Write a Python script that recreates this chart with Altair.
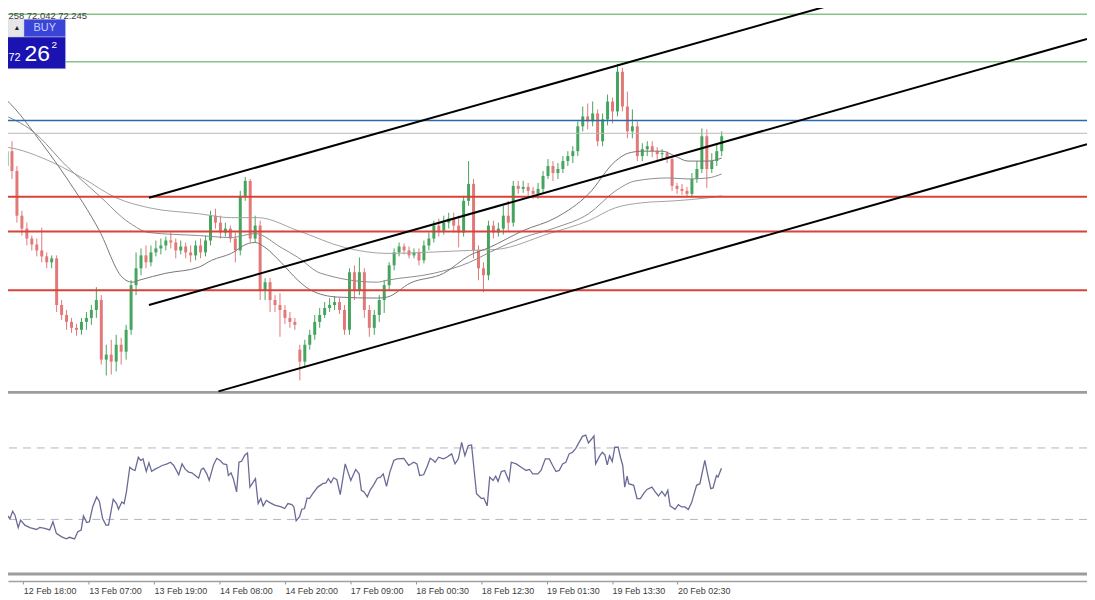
import altair as alt
import pandas as pd

# ---------------- data (prices) ----------------
OPEN = [72.42,71.95,72.10,71.90,71.45,71.32,71.22,71.16,71.10,71.04,
        70.98,71.02,70.55,70.45,70.38,70.32,70.30,70.38,70.42,70.50,
        70.60,70.00,70.05,69.98,70.15,70.08,70.30,70.75,70.92,71.05,
        70.98,71.08,71.12,71.15,71.20,71.18,71.10,71.14,71.08,71.05,
        71.15,71.08,71.20,71.45,71.38,71.28,71.32,71.22,71.10,71.65,
        71.80,71.22,71.35,70.70,70.78,70.60,70.55,70.50,70.42,70.38,
        70.10,69.98,70.15,70.25,70.38,70.45,70.52,70.55,70.58,70.50,
        70.30,70.88,70.70,70.88,70.50,70.32,70.45,70.60,70.75,70.95,
        71.08,71.14,71.10,71.05,71.08,71.00,71.15,71.22,71.35,71.30,
        71.38,71.42,71.35,71.28,71.60,71.77,71.10,70.92,70.85,71.35,
        71.28,71.32,71.45,71.38,71.75,71.72,71.74,71.70,71.67,71.72,
        71.85,71.95,71.88,71.92,72.00,72.05,72.10,72.35,72.45,72.40,
        72.48,72.20,72.42,72.60,72.50,72.90,72.55,72.30,72.35,72.05,
        72.12,72.15,72.10,72.07,72.08,72.02,71.75,71.72,71.70,71.67,
        71.82,71.92,72.25,71.92,72.00,72.10]
CLOSE = [71.95,72.10,71.90,71.45,71.32,71.22,71.16,71.10,71.04,70.98,
         71.02,70.55,70.45,70.38,70.32,70.30,70.38,70.42,70.50,70.60,
         70.00,70.05,69.98,70.15,70.08,70.30,70.75,70.92,71.05,70.98,
         71.08,71.12,71.15,71.20,71.18,71.10,71.14,71.08,71.05,71.15,
         71.08,71.20,71.45,71.38,71.28,71.32,71.22,71.10,71.65,71.80,
         71.22,71.35,70.70,70.78,70.60,70.55,70.50,70.42,70.38,70.35,
         69.98,70.15,70.25,70.38,70.45,70.52,70.55,70.58,70.50,70.30,
         70.88,70.70,70.88,70.50,70.32,70.45,70.60,70.75,70.95,71.08,
         71.14,71.10,71.05,71.08,71.00,71.15,71.22,71.35,71.30,71.38,
         71.42,71.35,71.28,71.60,71.77,71.10,70.92,70.85,71.35,71.28,
         71.32,71.45,71.38,71.75,71.72,71.74,71.70,71.67,71.72,71.85,
         71.95,71.88,71.92,72.00,72.05,72.10,72.35,72.45,72.40,72.48,
         72.20,72.42,72.60,72.50,72.90,72.55,72.30,72.35,72.05,72.12,
         72.15,72.10,72.07,72.08,72.02,71.75,71.72,71.70,71.67,71.82,
         71.92,72.25,71.92,72.00,72.10,72.25]
HIGH = [72.47,72.18,72.20,71.95,71.50,71.38,71.25,71.22,71.33,71.08,
        71.05,71.05,70.60,70.50,70.42,70.36,70.42,70.48,70.55,70.73,
        70.65,70.15,70.20,70.25,70.22,70.35,70.80,71.08,71.12,71.15,
        71.15,71.20,71.22,71.24,71.28,71.22,71.20,71.18,71.15,71.20,
        71.22,71.25,71.50,71.52,71.45,71.38,71.35,71.28,71.70,71.84,
        71.82,71.45,71.40,70.82,70.82,70.65,70.67,70.55,70.48,70.42,
        70.15,70.20,70.30,70.45,70.52,70.58,70.62,70.64,70.62,70.55,
        70.92,70.95,71.03,70.92,70.55,70.50,70.65,70.80,70.98,71.12,
        71.18,71.17,71.14,71.12,71.12,71.20,71.28,71.40,71.42,71.45,
        71.48,71.48,71.45,71.65,72.00,71.82,71.15,70.98,71.40,71.40,
        71.38,71.55,71.60,71.80,71.80,71.80,71.78,71.74,71.78,71.90,
        72.02,72.00,71.98,72.05,72.10,72.15,72.40,72.55,72.58,72.60,
        72.52,72.48,72.67,72.64,72.98,72.94,72.70,72.52,72.40,72.18,
        72.20,72.20,72.14,72.12,72.10,72.05,71.78,71.77,71.74,71.88,
        72.00,72.33,72.32,72.08,72.18,72.30]
LOW = [71.92,71.88,71.82,71.38,71.25,71.15,71.10,71.04,70.98,70.92,
       70.92,70.48,70.40,70.30,70.27,70.24,70.25,70.30,70.35,70.42,
       69.95,69.84,69.85,69.88,69.95,70.00,70.25,70.65,70.85,70.92,
       70.94,71.04,71.06,71.10,71.12,71.02,71.06,71.02,70.98,71.00,
       71.02,71.04,71.15,71.32,71.22,71.24,71.18,70.98,71.05,71.60,
       71.18,71.18,70.60,70.60,70.48,70.48,70.23,70.36,70.32,70.30,
       69.79,69.92,70.10,70.20,70.32,70.42,70.48,70.50,70.46,70.25,
       70.25,70.60,70.65,70.42,70.23,70.25,70.38,70.47,70.70,70.90,
       71.04,71.06,71.02,71.02,70.95,70.97,71.10,71.18,71.24,71.26,
       71.32,71.28,71.13,71.24,71.55,71.02,70.80,70.68,70.80,71.22,
       71.24,71.26,71.30,71.34,71.67,71.68,71.65,71.62,71.62,71.68,
       71.82,71.80,71.82,71.88,71.95,71.98,72.05,72.30,72.32,72.35,
       72.15,72.15,72.36,72.38,72.45,72.50,72.23,72.23,72.00,72.00,
       72.05,72.04,72.00,72.02,71.98,71.70,71.67,71.66,71.64,71.63,
       71.78,71.88,71.73,71.88,71.95,72.05]

# moving averages (bar position, price)
MA_FAST_X = [-0.4,3.6,6.2,13.0,19.6,24.2,26.2,27.6,33.0,39.6,42.2,46.2,49.6,51.0,53.0,56.2,59.6,62.2,67.6,75.6,77.6,82.2,89.0,94.2,98.2,105.0,111.6,118.2,123.6,126.2,129.0,133.0,135.6,138.2,142.2,145.0]
MA_FAST_P = [72.68,72.47,72.30,71.83,71.30,70.83,70.78,70.80,70.87,70.93,71.00,71.07,71.17,71.18,71.13,70.98,70.80,70.70,70.63,70.62,70.63,70.77,70.87,71.05,71.13,71.30,71.43,71.67,72.00,72.08,72.10,72.10,72.05,72.00,72.00,72.03]
MA_MID_X = [-0.4,6.2,13.0,19.6,25.6,29.6,39.6,46.2,51.0,56.2,59.6,64.2,75.6,77.6,87.0,94.2,98.2,105.0,111.6,118.2,123.6,127.6,134.2,138.2,142.2,145.0]
MA_MID_P = [72.48,72.30,71.95,71.65,71.38,71.28,71.25,71.23,71.27,71.13,71.03,70.87,70.78,70.80,70.87,70.98,71.08,71.23,71.33,71.47,71.70,71.80,71.83,71.82,71.83,71.87]
MA_SLOW_X = [-0.4,3.0,8.2,16.2,23.0,29.6,39.6,46.2,51.6,59.6,69.0,77.6,94.2,99.6,110.2,118.2,123.6,129.0,135.6,142.2,145.0]
MA_SLOW_P = [72.15,72.12,72.03,71.83,71.63,71.53,71.47,71.43,71.43,71.30,71.13,71.07,71.10,71.11,71.27,71.40,71.53,71.58,71.60,71.63,71.65]

# RSI (bar position, value)
RSI_X = [-0.4,-0.06,0.4,1.26,1.6,2.14,2.6,3.26,3.74,4.6,5.6,6.94,7.6,8.6,9.6,10.26,10.94,11.94,12.94,13.6,
         14.6,15.26,15.94,16.4,17.06,17.6,18.26,19.06,19.6,20.26,20.94,21.46,21.94,22.4,23.06,23.46,24.14,24.6,25.06,25.74,
         26.26,26.8,27.46,27.94,28.4,29.06,29.6,30.14,30.94,31.6,32.26,33.26,33.94,34.6,35.6,36.26,36.94,37.6,38.26,38.94,
         39.6,40.14,40.6,41.26,41.74,42.6,43.26,43.94,44.6,45.26,45.6,46.14,46.6,47.26,47.74,48.26,48.94,49.46,49.94,50.6,
         51.06,51.6,52.14,52.6,53.26,53.94,54.94,56.26,56.94,57.6,58.4,58.8,59.26,59.94,60.4,60.94,61.46,61.94,62.6,63.6,
         64.6,65.26,65.74,66.26,66.8,67.46,68.14,69.14,70.26,71.26,71.94,72.4,72.94,73.6,74.14,74.94,75.6,76.26,76.8,77.46,
         78.14,78.94,79.6,
         80.94,81.94,82.94,83.6,84.14,84.94,85.6,86.26,86.94,87.26,87.94,88.94,89.6,90.6,91.26,91.94,92.6,93.26,93.94,94.6,
         95.6,96.6,97.06,97.74,98.26,98.94,99.46,99.94,100.6,101.26,102.14,102.6,103.6,104.6,105.6,106.26,106.94,107.94,108.6,109.46,
         110.26,110.94,111.6,112.26,112.94,113.6,114.26,114.94,115.6,116.26,116.94,117.6,118.14,118.8,119.26,119.6,120.4,120.94,121.46,121.94,
         122.4,122.94,123.46,124.14,124.6,125.06,125.46,125.94,126.26,127.26,127.94,128.6,129.26,129.94,130.94,131.6,132.26,132.94,133.6,134.14,
         134.6,135.6,136.26,136.94,137.6,138.26,138.94,139.94,140.6,141.6,142.14,142.8,143.26,143.94,144.26,144.94]
RSI_V = [39.8,27.8,35.2,31.5,30.5,34.6,32.4,25.4,29.6,26.8,25.4,24.4,25.5,25.0,24.1,28.7,22.2,20.4,19.1,20.0,
         19.1,23.1,24.1,32.0,28.3,28.7,37.0,42.6,40.2,30.5,26.8,26.8,34.2,41.3,38.9,35.7,39.8,38.9,45.4,59.2,
         58.0,57.4,64.8,63.0,63.9,56.9,61.7,56.9,58.3,59.2,60.2,61.1,62.0,60.2,55.0,61.1,58.0,56.5,56.1,54.6,
         53.1,58.0,58.7,55.5,51.8,60.5,64.2,63.0,61.1,60.7,54.6,56.1,52.8,45.4,62.0,62.6,66.1,67.2,48.1,50.9,
         52.8,38.9,41.7,37.6,40.7,39.4,38.0,37.0,36.1,38.9,38.3,37.0,29.2,31.5,35.7,36.1,42.0,41.7,44.4,48.1,
         50.0,50.4,52.8,50.5,53.3,52.2,43.9,61.1,51.8,58.0,55.5,46.3,45.4,42.6,46.3,49.6,53.1,53.7,55.5,48.5,
         56.5,63.0,63.9,
         64.2,60.2,62.0,61.1,54.6,55.0,59.2,64.2,63.0,62.0,64.8,63.9,64.8,66.7,61.1,63.9,73.1,65.7,71.3,71.7,
         44.4,41.7,42.0,37.6,53.7,51.8,54.2,51.3,56.8,57.4,51.5,62.0,61.1,59.2,57.4,58.0,55.5,55.5,57.4,63.9,
         63.9,60.2,56.8,57.4,61.1,62.0,66.7,67.6,69.8,73.1,76.5,77.2,72.8,75.0,76.8,61.1,65.4,67.6,66.1,60.5,
         65.7,62.4,70.4,70.4,64.8,60.2,48.1,54.2,50.0,49.1,41.7,41.7,44.4,46.8,48.1,45.4,43.1,45.7,43.1,46.3,
         37.6,35.7,38.3,37.0,37.0,35.5,39.4,49.1,50.0,63.0,55.5,47.2,47.6,54.6,53.7,58.7]
RSI_LEVELS = [70, 30]

# horizontal levels (price)
GREEN_LEVELS = [73.48, 73.00]
BLUE_LEVELS = [72.41]
GREY_LEVELS = [72.28]
RED_LEVELS = [71.64, 71.29, 70.70]
PANEL_SEPARATORS = [69.67, 67.84]

# channel lines: start bar, start price, end bar, end price
CH_X1 = [29.6, 29.6, 43.6]
CH_P1 = [71.63, 70.55, 69.68]
CH_X2 = [167.6, 218.6, 218.6]
CH_P2 = [73.58, 73.23, 72.17]

# time axis
TIME_LABELS = ["12 Feb 18:00", "13 Feb 07:00", "13 Feb 19:00", "14 Feb 08:00", "14 Feb 20:00",
               "17 Feb 09:00", "18 Feb 00:30", "18 Feb 12:30", "19 Feb 01:30", "19 Feb 13:30",
               "20 Feb 02:30"]
TICK0 = 4.28
TICK_STEP = 13.18

# quote widget
QUOTE_LINE = "258 72.042 72.245"

# ---------------- frames ----------------
n = len(CLOSE)
cdf = pd.DataFrame({"i": list(range(n)), "o": OPEN, "h": HIGH, "l": LOW, "c": CLOSE})
up = cdf[cdf["c"] >= cdf["o"]]
dn = cdf[cdf["c"] < cdf["o"]]

xS = alt.Scale(domain=[1.2, 218.6], nice=False, zero=False)
yP = alt.Scale(domain=[67.77, 73.52], nice=False, zero=False)
yR = alt.Scale(domain=[-4.444, 315], nice=False, zero=False)

labels_js = "[" + ",".join("'" + s + "'" for s in TIME_LABELS) + "]"
xAx = alt.Axis(
    values=[round(TICK0 + k * TICK_STEP, 3) for k in range(len(TIME_LABELS))],
    labelExpr=labels_js + f"[round((datum.value - {TICK0}) / {TICK_STEP})]",
    title=None, grid=False, domainColor="#a0a0a0", domainWidth=1.5,
    tickColor="#909090", tickSize=3, labelAlign="left", labelPadding=3,
    labelFont="Liberation Sans", labelFontSize=9, labelColor="#3c3c3c",
    labelOverlap=False, labelFlush=False,
)

def X(field):
    return alt.X(field, type="quantitative", scale=xS, axis=xAx)

def YP(field):
    return alt.Y(field, type="quantitative", scale=yP, axis=None)

GREEN_C = "#45a45d"
RED_C = "#e27878"

wick_up = alt.Chart(up).mark_rule(strokeWidth=1, color=GREEN_C).encode(
    x=X("i:Q"), y=YP("l:Q"), y2="h:Q")
wick_dn = alt.Chart(dn).mark_rule(strokeWidth=1, color=RED_C).encode(
    x=X("i:Q"), y=YP("l:Q"), y2="h:Q")
body_up = alt.Chart(up).mark_rule(strokeWidth=3, color=GREEN_C).encode(
    x=X("i:Q"), y=YP("o:Q"), y2="c:Q")
body_dn = alt.Chart(dn).mark_rule(strokeWidth=3, color=RED_C).encode(
    x=X("i:Q"), y=YP("o:Q"), y2="c:Q")

def ma_layer(xs, ps, color):
    d = pd.DataFrame({"x": xs, "p": ps})
    return alt.Chart(d).mark_line(strokeWidth=1, color=color, interpolate="monotone").encode(
        x=X("x:Q"), y=YP("p:Q"), order="x:Q")

ma_fast = ma_layer(MA_FAST_X, MA_FAST_P, "#777777")
ma_mid = ma_layer(MA_MID_X, MA_MID_P, "#8c8c8c")
ma_slow = ma_layer(MA_SLOW_X, MA_SLOW_P, "#a2a2a2")

def hline(levels, color, width):
    return alt.Chart(pd.DataFrame({"p": levels})).mark_rule(color=color, strokeWidth=width).encode(
        y=YP("p:Q"))

h_green = hline(GREEN_LEVELS, "#86c486", 1.5)
h_blue = hline(BLUE_LEVELS, "#2c6aa6", 1.5)
h_grey = hline(GREY_LEVELS, "#b8b8b8", 1)
h_red = hline(RED_LEVELS, "#d6433b", 2)
h_sep = hline(PANEL_SEPARATORS, "#9c9c9c", 3)

chdf = pd.DataFrame({"x1": CH_X1, "p1": CH_P1, "x2": CH_X2, "p2": CH_P2})
channels = alt.Chart(chdf).mark_rule(color="#000000", strokeWidth=2).encode(
    x=X("x1:Q"), x2="x2:Q", y=YP("p1:Q"), y2="p2:Q")

# widget (in chart coordinates)
wbox = pd.DataFrame({
    "x1": [1.2, 4.4, -0.4], "x2": [4.2, 12.8, 12.8],
    "p1": [73.25, 73.25, 72.93], "p2": [73.43, 73.43, 73.25],
    "fill": ["#e6e6e6", "#3a44d6", "#1a13b2"],
})
wrect = alt.Chart(wbox).mark_rect(stroke="#d0d0e8", strokeWidth=0.5).encode(
    x=X("x1:Q"), x2="x2:Q", y=YP("p1:Q"), y2="p2:Q",
    fill=alt.Fill("fill:N", scale=None))

wtext = pd.DataFrame({
    "x": [3.0, 8.6, 2.5, 7.1, 10.5],
    "p": [73.34, 73.34, 73.04, 73.08, 73.17],
    "t": ["\u25b2", "BUY", "72", "26", "2"],
    "s": [7, 11, 11, 23, 10],
    "col": ["#222222", "#c8d0fb", "#ffffff", "#ffffff", "#ffffff"],
})
wtxt = alt.Chart(wtext).mark_text(font="Liberation Sans", align="center", baseline="middle").encode(
    x=X("x:Q"), y=YP("p:Q"), text="t:N",
    size=alt.Size("s:Q", scale=None), color=alt.Color("col:N", scale=None))

qline = alt.Chart(pd.DataFrame({"x": [1.3], "p": [73.515], "t": [QUOTE_LINE]})).mark_text(
    font="Liberation Sans", fontSize=9.5, align="left", baseline="top", color="#404040").encode(
    x=X("x:Q"), y=YP("p:Q"), text="t:N")

price_group = alt.layer(wick_up, wick_dn, body_up, body_dn, ma_slow, ma_mid, ma_fast,
                        h_grey, h_blue, h_green, h_red, h_sep, channels, wrect, wtxt, qline)

rsi_lv = alt.Chart(pd.DataFrame({"v": RSI_LEVELS})).mark_rule(
    color="#b4b4c6", strokeWidth=1, strokeDash=[8, 6]).encode(
    y=alt.Y("v:Q", scale=yR, axis=None))
rsi_line = alt.Chart(pd.DataFrame({"x": RSI_X, "v": RSI_V})).mark_line(
    color="#6a6a96", strokeWidth=1.3).encode(
    x=X("x:Q"), y=alt.Y("v:Q", scale=yR, axis=None), order="x:Q")
rsi_group = alt.layer(rsi_lv, rsi_line)

chart = alt.layer(price_group, rsi_group).resolve_scale(y="independent").properties(
    width=1087, height=575,
    autosize=alt.AutoSizeParams(type="none"),
    padding={"left": 0, "top": 0, "right": 0, "bottom": 25},
    background="#ffffff",
).configure_view(stroke=None)

chart.save("out.html", embed_options={"renderer": "svg", "actions": False})
